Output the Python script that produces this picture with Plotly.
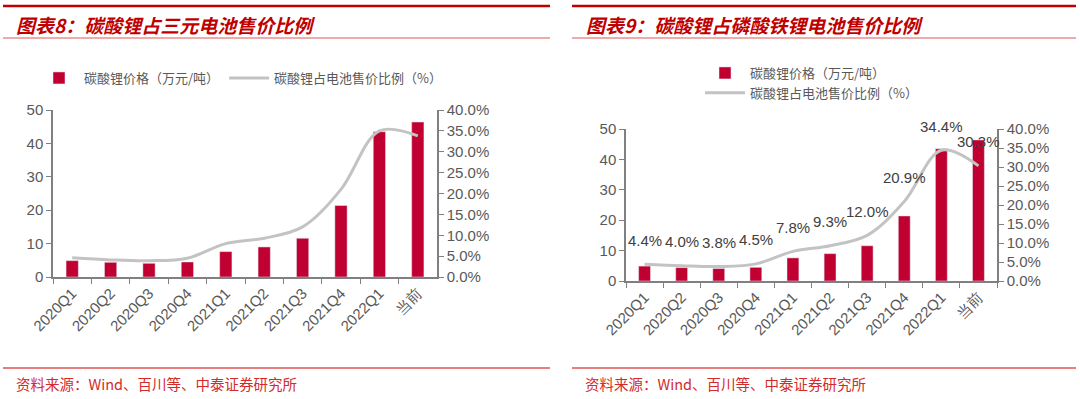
import plotly.graph_objects as go

# ---- data ----
categories = ['2020Q1', '2020Q2', '2020Q3', '2020Q4', '2021Q1', '2021Q2',
              '2021Q3', '2021Q4', '2022Q1', '当前']
li2co3_price = [4.9, 4.4, 4.1, 4.5, 7.6, 9.0, 11.6, 21.4, 43.5, 46.4]          # 万元/吨
share_ternary = [4.6, 4.1, 3.9, 4.5, 8.0, 9.3, 12.0, 21.0, 35.0, 33.8]        # %
share_lfp = [4.4, 4.0, 3.8, 4.5, 7.8, 9.3, 12.0, 20.9, 34.4, 30.3]            # %

left_ticks = [0, 10, 20, 30, 40, 50]
right_ticks = [0, 5, 10, 15, 20, 25, 30, 35, 40]
right_ticktext = [f'{v:.1f}%' for v in right_ticks]

title_left = '图表8：碳酸锂占三元电池售价比例'
title_right = '图表9：碳酸锂占磷酸铁锂电池售价比例'
source_text = '资料来源：Wind、百川等、中泰证券研究所'
bar_name = '碳酸锂价格（万元/吨）'
line_name = '碳酸锂占电池售价比例（%）'

# ---- style ----
W, H = 1080, 399
BAR = '#C00030'
LINE = '#C3C3C3'
AX = '#808080'
TXT = '#595959'
RED = '#C00000'
CJK = 'Noto Sans CJK SC'
NUM = 'Liberation Sans Narrow, Arial Narrow, Liberation Sans, sans-serif'


def py(px):
    return 1 - px / H


def pxx(px):
    return px / W


fig = go.Figure()

# left chart
fig.add_trace(go.Bar(x=categories, y=li2co3_price, name=bar_name, marker_color=BAR,
                     width=0.32, xaxis='x', yaxis='y', legend='legend'))
fig.add_trace(go.Scatter(x=categories, y=share_ternary, name=line_name, mode='lines',
                         line=dict(color=LINE, width=3, shape='spline', smoothing=1),
                         xaxis='x', yaxis='y2', legend='legend'))
# right chart
fig.add_trace(go.Bar(x=categories, y=li2co3_price, name=bar_name, marker_color=BAR,
                     width=0.32, xaxis='x2', yaxis='y3', legend='legend2'))
fig.add_trace(go.Scatter(x=categories, y=share_lfp, name=line_name, mode='lines',
                         line=dict(color=LINE, width=3, shape='spline', smoothing=1),
                         xaxis='x2', yaxis='y4', legend='legend2'))

tickfont = dict(family=NUM, size=15, color=TXT)

xcommon = dict(type='category', showline=True, linecolor=AX, linewidth=1.5,
               ticks='outside', tickson='boundaries', ticklen=5, tickcolor=AX,
               tickangle=-45, tickfont=tickfont, showgrid=False, zeroline=False,
               range=[-0.5, 9.5], automargin=False)
yl_common = dict(range=[0, 50], tickvals=left_ticks, showline=True, linecolor=AX,
                 linewidth=1.5, ticks='outside', ticklen=5, tickcolor=AX,
                 tickfont=tickfont, showgrid=False, zeroline=False, automargin=False)
yr_common = dict(range=[0, 40], tickvals=right_ticks, ticktext=right_ticktext,
                 side='right', showline=True, linecolor=AX, linewidth=1.5,
                 ticks='outside', ticklen=5, tickcolor=AX, tickfont=tickfont,
                 showgrid=False, zeroline=False, automargin=False)

fig.update_layout(
    width=W, height=H, margin=dict(l=0, r=0, t=0, b=0, autoexpand=False),
    paper_bgcolor='white', plot_bgcolor='white',
    xaxis=dict(domain=[pxx(53), pxx(437)], anchor='y', **xcommon),
    yaxis=dict(domain=[py(277), py(110)], anchor='x', **yl_common),
    yaxis2=dict(overlaying='y', anchor='x', **yr_common),
    xaxis2=dict(domain=[pxx(626), pxx(997)], anchor='y3', **xcommon),
    yaxis3=dict(domain=[py(281), py(129)], anchor='x2', **yl_common),
    yaxis4=dict(overlaying='y3', anchor='x2', **yr_common),
    legend=dict(orientation='h', x=pxx(34), y=py(78), xanchor='left', yanchor='middle',
                font=dict(family=CJK, size=13, color=TXT), itemwidth=40,
                bgcolor='rgba(0,0,0,0)'),
    legend2=dict(orientation='v', x=pxx(700), y=py(58), xanchor='left', yanchor='top',
                 font=dict(family=CJK, size=13, color=TXT), itemwidth=40,
                 tracegroupgap=10, bgcolor='rgba(0,0,0,0)'),
    showlegend=True,
)

# data labels on right chart
for c, v in zip(categories, share_lfp):
    fig.add_annotation(x=c, y=v, xref='x2', yref='y4', text=f'{v:.1f}%', showarrow=False,
                       yshift=24, font=dict(family=NUM, size=15, color='#404040'))

# titles
fig.add_annotation(x=pxx(14), y=py(24), xref='paper', yref='paper', xanchor='left',
                   yanchor='middle', showarrow=False, text=f'<b><i>{title_left}</i></b>',
                   font=dict(family=CJK, size=19, color=RED))
fig.add_annotation(x=pxx(584), y=py(24), xref='paper', yref='paper', xanchor='left',
                   yanchor='middle', showarrow=False, text=f'<b><i>{title_right}</i></b>',
                   font=dict(family=CJK, size=19, color=RED))
# sources
for x0 in (14, 583):
    fig.add_annotation(x=pxx(x0), y=py(383), xref='paper', yref='paper', xanchor='left',
                       yanchor='middle', showarrow=False, text=source_text,
                       font=dict(family=CJK, size=14.5, color='#D42A2A'))

# decorative rules
for (a, b) in ((3, 550), (572, 1076)):
    fig.add_shape(type='line', xref='paper', yref='paper', x0=pxx(a), x1=pxx(b),
                  y0=py(6), y1=py(6), line=dict(color=RED, width=2.5))
    fig.add_shape(type='line', xref='paper', yref='paper', x0=pxx(a), x1=pxx(b),
                  y0=py(38), y1=py(38), line=dict(color='#E05555', width=1))
    fig.add_shape(type='line', xref='paper', yref='paper', x0=pxx(a), x1=pxx(b),
                  y0=py(368), y1=py(368), line=dict(color='#E05555', width=1.5))

fig.write_html('out.html', config={'displayModeBar': False},
               post_script="document.body.style.margin='0';document.body.style.overflow='hidden';")
